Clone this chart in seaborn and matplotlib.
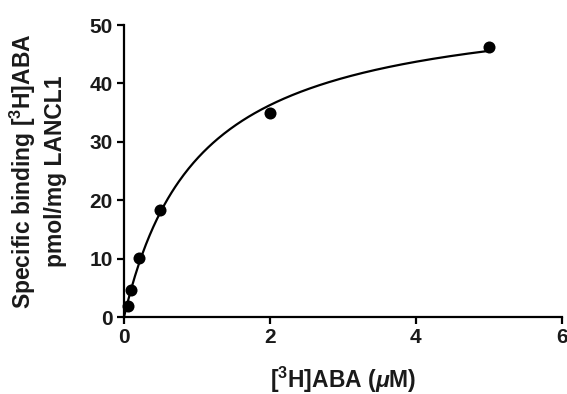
import numpy as np
import pandas as pd
import matplotlib
matplotlib.use("Agg")
import matplotlib.pyplot as plt
import seaborn as sns

# [3H]ABA concentration (uM) and specific binding (pmol/mg LANCL1)
conc_uM = [0.05, 0.1, 0.2, 0.5, 2.0, 5.0]
binding = [1.9, 4.7, 10.1, 18.3, 35.0, 46.3]

x_ticks = [0, 2, 4, 6]
y_ticks = [0, 10, 20, 30, 40, 50]

df = pd.DataFrame({"conc": conc_uM, "binding": binding})

# One-site saturation fit: B = Bmax * x / (Kd + x)
xd = np.asarray(conc_uM)
yd = np.asarray(binding)
best = None
for kd in np.linspace(0.05, 5, 5000):
    f = xd / (kd + xd)
    bmax = (f @ yd) / (f @ f)
    sse = np.sum((yd - bmax * f) ** 2)
    if best is None or sse < best[0]:
        best = (sse, kd, bmax)
_, kd_fit, bmax_fit = best
xs = np.linspace(0, max(conc_uM), 300)
fit = pd.DataFrame({"conc": xs, "binding": bmax_fit * xs / (kd_fit + xs)})

sns.set_theme(style="ticks")
plt.rcParams["font.family"] = ["Liberation Sans", "DejaVu Sans"]
plt.rcParams["font.weight"] = "bold"
plt.rcParams["mathtext.fontset"] = "custom"
plt.rcParams["mathtext.it"] = "Liberation Sans:italic:bold"
plt.rcParams["mathtext.rm"] = "Liberation Sans:bold"
plt.rcParams["mathtext.default"] = "rm"

fig = plt.figure(figsize=(5.67, 3.94), dpi=100)
ax = fig.add_axes([0.2187, 0.1954, 0.7723, 0.7411])

sns.lineplot(data=fit, x="conc", y="binding", color="black", linewidth=1.6, ax=ax)
sns.scatterplot(data=df, x="conc", y="binding", color="black", s=75,
                edgecolor="black", linewidth=0, zorder=3, clip_on=False, ax=ax)

ax.set_xlim(0, 6)
ax.set_ylim(0, 50)
ax.set_xticks(x_ticks)
ax.set_yticks(y_ticks)
ax.tick_params(axis="both", direction="out", length=5, width=1.6,
               labelsize=15, pad=3, color="black", labelcolor="#1a1a1a")
for lab in ax.get_xticklabels() + ax.get_yticklabels():
    lab.set_fontweight("bold")
for side in ("top", "right"):
    ax.spines[side].set_visible(False)
for side in ("left", "bottom"):
    ax.spines[side].set_linewidth(1.6)
    ax.spines[side].set_color("black")

ax.set_xlabel("[$^3$H]ABA ($\\mathit{\\mu}$M)", fontsize=16.5, fontweight="bold",
              color="#1a1a1a")
ax.xaxis.set_label_coords(0.5, -0.165)
ax.set_ylabel("Specific binding [$^3$H]ABA\npmol/mg LANCL1", fontsize=16.5,
              fontweight="bold", color="#1a1a1a", linespacing=1.35)
ax.yaxis.set_label_coords(-0.13, 0.5)

fig.savefig("out.png", dpi=100)
